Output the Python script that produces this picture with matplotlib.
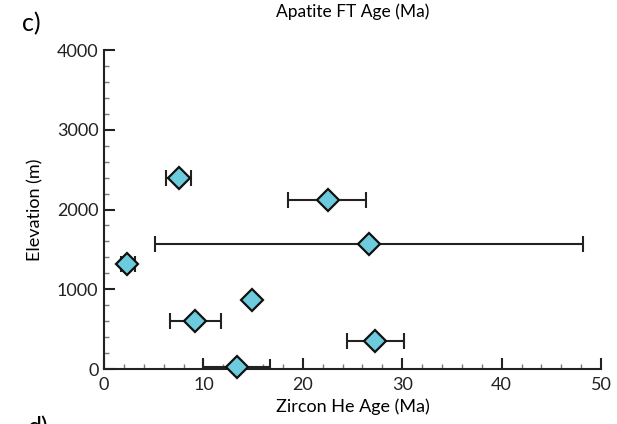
import matplotlib
matplotlib.use("Agg")
import matplotlib.pyplot as plt
from matplotlib.ticker import MultipleLocator

plt.rcParams['font.family'] = ['Lato', 'DejaVu Sans']

# Zircon He age (Ma) with error range, elevation (m)
zhe_age = [7.5, 22.5, 26.7, 2.35, 14.9, 9.2, 27.3, 13.4]
zhe_low = [6.2, 18.5, 5.1, 1.7, 14.9, 6.6, 24.4, 10.0]
zhe_high = [8.8, 26.4, 48.2, 3.1, 14.9, 11.8, 30.2, 16.7]
elevation = [2400, 2120, 1570, 1320, 860, 600, 345, 25]

err_lo = [a - l for a, l in zip(zhe_age, zhe_low)]
err_hi = [h - a for a, h in zip(zhe_age, zhe_high)]

fig = plt.figure(figsize=(6.17, 4.24), dpi=100)
ax = fig.add_axes([0.1686, 0.1297, 0.8055, 0.7523])

ax.errorbar(zhe_age, elevation, xerr=[err_lo, err_hi], fmt='none',
            ecolor='#222222', elinewidth=1.5, capsize=6, capthick=1.5, zorder=2)
ax.plot(zhe_age, elevation, linestyle='none', marker='D', markersize=11,
        markerfacecolor='#6ccbdc', markeredgecolor='#111111', markeredgewidth=1.6,
        zorder=3, clip_on=False)

ax.set_xlim(0, 50)
ax.set_ylim(0, 4000)
ax.xaxis.set_major_locator(MultipleLocator(10))
ax.xaxis.set_minor_locator(MultipleLocator(2))
ax.yaxis.set_major_locator(MultipleLocator(1000))
ax.yaxis.set_minor_locator(MultipleLocator(200))

for s in ['top', 'right']:
    ax.spines[s].set_visible(False)
for s in ['left', 'bottom']:
    ax.spines[s].set_linewidth(1.5)
    ax.spines[s].set_color('#222222')

ax.tick_params(which='major', direction='in', length=8, width=1.5,
               labelsize=13, colors='#222222')
ax.tick_params(axis='x', which='major', pad=6)
ax.tick_params(axis='y', which='major', pad=4)
ax.tick_params(which='minor', direction='in', length=3.5, width=1, colors='#777777')

ax.set_xlabel('Zircon He Age (Ma)', fontsize=13, labelpad=4)
ax.set_ylabel('Elevation (m)', fontsize=13, labelpad=10)
ax.set_title('Apatite FT Age (Ma)', fontsize=12.5, pad=24)

fig.text(0.035, 0.945, 'c)', fontsize=18, ha='left', va='center')
fig.text(0.045, -0.008, 'd)', fontsize=18, ha='left', va='center')

fig.savefig('out.png', dpi=100)
